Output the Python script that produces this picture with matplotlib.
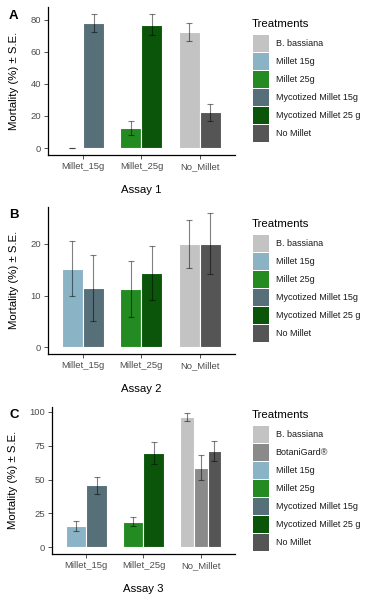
import numpy as np
import matplotlib
matplotlib.use("Agg")
import matplotlib.pyplot as plt
from matplotlib.patches import Rectangle

plt.rcParams['font.family'] = ['Liberation Sans', 'DejaVu Sans']

groups = ['Millet_15g', 'Millet_25g', 'No_Millet']

colors = {
    'B. bassiana': '#c3c3c3',
    'BotaniGard®': '#8a8a8a',
    'Millet 15g': '#8ab3c5',
    'Millet 25g': '#238b22',
    'Mycotized Millet 15g': '#566f78',
    'Mycotized Millet 25 g': '#0a550a',
    'No Millet': '#555555',
}

# assay 1
a1_group = ['Millet_15g', 'Millet_15g', 'Millet_25g', 'Millet_25g', 'No_Millet', 'No_Millet']
a1_treat = ['Millet 15g', 'Mycotized Millet 15g', 'Millet 25g', 'Mycotized Millet 25 g', 'B. bassiana', 'No Millet']
a1_mean = [0.0, 78.0, 12.4, 76.9, 72.4, 22.2]
a1_se = [0.0, 5.6, 4.5, 6.5, 5.4, 5.5]

# assay 2
a2_group = ['Millet_15g', 'Millet_15g', 'Millet_25g', 'Millet_25g', 'No_Millet', 'No_Millet']
a2_treat = ['Millet 15g', 'Mycotized Millet 15g', 'Millet 25g', 'Mycotized Millet 25 g', 'B. bassiana', 'No Millet']
a2_mean = [15.2, 11.4, 11.2, 14.3, 20.0, 20.0]
a2_se = [5.3, 6.4, 5.4, 5.2, 4.6, 5.9]

# assay 3
a3_group = ['Millet_15g', 'Millet_15g', 'Millet_25g', 'Millet_25g', 'No_Millet', 'No_Millet', 'No_Millet']
a3_treat = ['Millet 15g', 'Mycotized Millet 15g', 'Millet 25g', 'Mycotized Millet 25 g', 'B. bassiana', 'BotaniGard®', 'No Millet']
a3_mean = [15.9, 45.6, 18.8, 69.5, 96.1, 58.8, 71.0]
a3_se = [3.6, 6.6, 3.4, 8.3, 2.7, 9.1, 7.2]

items6 = ['B. bassiana', 'Millet 15g', 'Millet 25g', 'Mycotized Millet 15g', 'Mycotized Millet 25 g', 'No Millet']
items7 = ['B. bassiana', 'BotaniGard®', 'Millet 15g', 'Millet 25g', 'Mycotized Millet 15g', 'Mycotized Millet 25 g', 'No Millet']

W, H = 366.0, 600.0
fig = plt.figure(figsize=(W / 100, H / 100), dpi=100)


def legend_block(items, title_y):
    # ggplot-like legend drawn in figure pixel positions
    fig.text(252 / W, 1 - title_y / H, 'Treatments', fontsize=8.2, va='center', ha='left')
    key = 16.7
    pitch = 18.07
    top = title_y + 11
    for j, t in enumerate(items):
        y0 = top + j * pitch
        fig.add_artist(Rectangle((252.7 / W, 1 - (y0 + key) / H), key / W, key / H,
                                 transform=fig.transFigure, facecolor=colors[t], edgecolor='none'))
        fig.text(275.7 / W, 1 - (y0 + key / 2) / H, t, fontsize=6.5, va='center', ha='left',
                 color='#1a1a1a')


def panel(rect, grp, treat, mean, se, yticks, xlabel, letter, leg_items, title_y):
    ax = fig.add_axes(rect)
    total_w = 0.72
    for gi, g in enumerate(groups):
        idx = [i for i, x in enumerate(grp) if x == g]
        w = total_w / len(idx)
        for k, i in enumerate(idx):
            x = gi + 1 - total_w / 2 + w * (k + 0.5)
            ax.bar(x, mean[i], width=w, color=colors[treat[i]], edgecolor='white',
                   linewidth=0.8, zorder=2)
            ax.errorbar(x, mean[i], yerr=se[i], fmt='none', ecolor=(0, 0, 0, 0.5),
                        elinewidth=0.8, capsize=2.3, capthick=0.8, zorder=3)
    top = max(m + s for m, s in zip(mean, se))
    ax.set_ylim(-0.05 * top, top * 1.05)
    ax.set_xlim(0.4, 3.6)
    ax.set_xticks([1, 2, 3])
    ax.set_xticklabels(groups)
    ax.set_yticks(yticks)
    ax.tick_params(labelsize=6.8, labelcolor='#4d4d4d', color='#333333', length=3, width=0.6, pad=2)
    for s in ['top', 'right']:
        ax.spines[s].set_visible(False)
    for s in ['left', 'bottom']:
        ax.spines[s].set_linewidth(0.9)
    ax.set_xlabel(xlabel, fontsize=8.2, labelpad=10)
    ax.set_ylabel('Mortality (%) ± S.E.', fontsize=8.2, labelpad=8)
    fig.text(0.025, rect[1] + rect[3] - 0.004, letter, fontsize=9.5, fontweight='bold', va='top')
    legend_block(leg_items, title_y)
    return ax


panel([0.131, 0.742, 0.511, 0.246], a1_group, a1_treat, a1_mean, a1_se,
      [0, 20, 40, 60, 80], 'Assay 1', 'A', items6, 24)
panel([0.130, 0.41, 0.512, 0.2455], a2_group, a2_treat, a2_mean, a2_se,
      [0, 10, 20], 'Assay 2', 'B', items6, 224)
panel([0.142, 0.0767, 0.500, 0.2455], a3_group, a3_treat, a3_mean, a3_se,
      [0, 25, 50, 75, 100], 'Assay 3', 'C', items7, 415)

fig.savefig('out.png', dpi=100)
